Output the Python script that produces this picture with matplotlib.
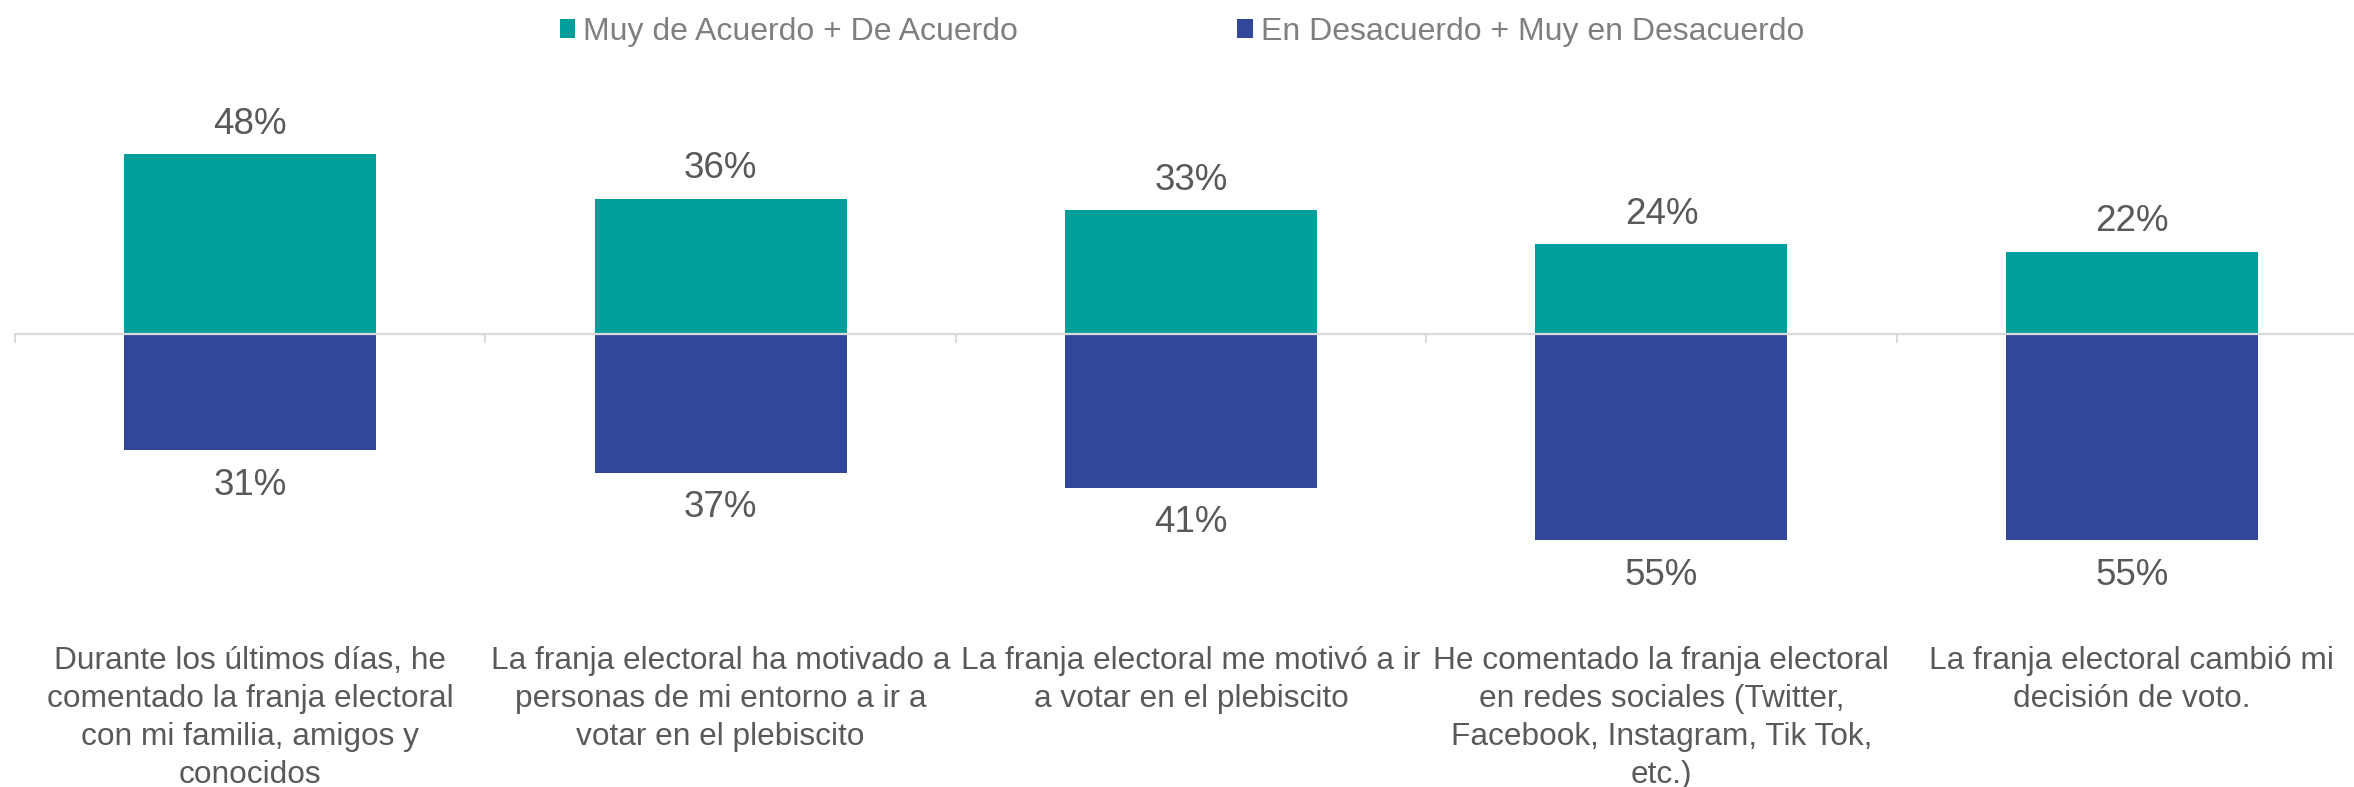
import matplotlib
matplotlib.use("Agg")
import matplotlib.pyplot as plt
from matplotlib.transforms import blended_transform_factory

plt.rcParams['font.family'] = ['Liberation Sans', 'DejaVu Sans']

categories = [
    "Durante los últimos días, he\ncomentado la franja electoral\ncon mi familia, amigos y\nconocidos",
    "La franja electoral ha motivado a\npersonas de mi entorno a ir a\nvotar en el plebiscito",
    "La franja electoral me motivó a ir\na votar en el plebiscito",
    "He comentado la franja electoral\nen redes sociales (Twitter,\nFacebook, Instagram, Tik Tok,\netc.)",
    "La franja electoral cambió mi\ndecisión de voto.",
]
agree = [48, 36, 33, 24, 22]
disagree = [31, 37, 41, 55, 55]
series_names = ["Muy de Acuerdo + De Acuerdo", "En Desacuerdo + Muy en Desacuerdo"]

TEAL = "#009E9A"
NAVY = "#30479B"
TXT = "#595959"

W, H = 2354, 787
fig = plt.figure(figsize=(W / 100, H / 100), dpi=100)
ax = fig.add_axes([15 / W, 190.5 / H, 2352 / W, 525 / H])

x = list(range(len(categories)))
b1 = ax.bar(x, agree, width=0.536, color=TEAL, label=series_names[0], zorder=2)
b2 = ax.bar(x, [-v for v in disagree], width=0.536, color=NAVY, label=series_names[1], zorder=2)

ax.set_xlim(-0.5, len(categories) - 0.5)
ax.set_ylim(-70, 70)

for s in ['top', 'right', 'left']:
    ax.spines[s].set_visible(False)
ax.spines['bottom'].set_position(('data', 0))
ax.spines['bottom'].set_color('#d9d9d9')
ax.spines['bottom'].set_linewidth(1.6)
ax.spines['bottom'].set_zorder(3)
ax.set_yticks([])
ax.set_xticks([i - 0.5 for i in range(len(categories) + 1)])
ax.tick_params(axis='x', direction='out', length=6.5, width=1.3, color='#d9d9d9', labelbottom=False)

for i, v in enumerate(agree):
    ax.annotate(f"{v}%", (i, v), xytext=(0, 30), textcoords='offset pixels',
                ha='center', va='center', fontsize=26.5, color=TXT)
for i, v in enumerate(disagree):
    ax.annotate(f"{v}%", (i, -v), xytext=(0, -35), textcoords='offset pixels',
                ha='center', va='center', fontsize=26.5, color=TXT)

tr = blended_transform_factory(ax.transData, fig.transFigure)
for i, lab in enumerate(categories):
    ax.text(i, 1 - 646 / H, lab, transform=tr, ha='center', va='top',
            fontsize=22.8, color=TXT, linespacing=1.35, clip_on=False)

leg = fig.legend(handles=[b1, b2], labels=series_names, loc='center',
                 bbox_to_anchor=(1182 / W, 1 - 32 / H), ncol=2, frameon=False,
                 fontsize=23, handlelength=0.5, handleheight=0.55,
                 handletextpad=0.25, columnspacing=6.85, borderpad=0)
for t in leg.get_texts():
    t.set_color('#7f7f7f')

fig.savefig("out.png", dpi=100)
